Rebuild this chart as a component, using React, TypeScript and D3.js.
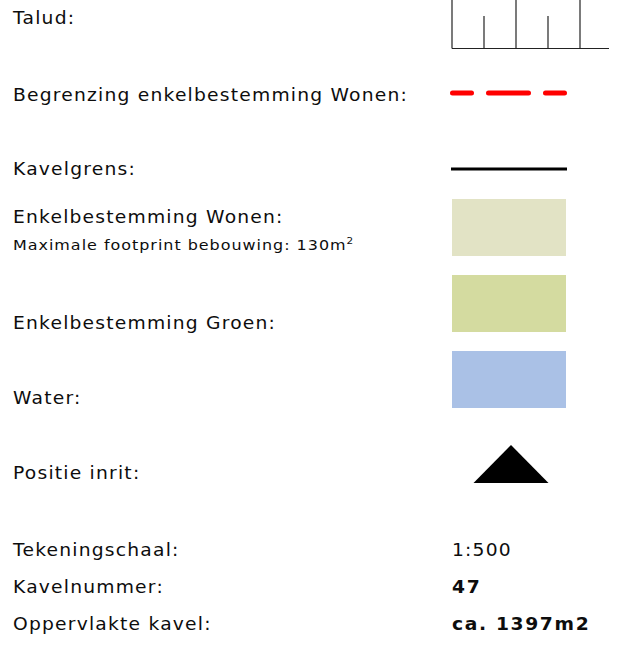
import React from 'react';
import { line, scaleLinear } from 'd3';

// legend texts
const symbolLabels = [
  'Talud:',
  'Begrenzing enkelbestemming Wonen:',
  'Kavelgrens:',
  'Enkelbestemming Wonen:',
  'Enkelbestemming Groen:',
  'Water:',
  'Positie inrit:',
]
const subLabel = 'Maximale footprint bebouwing: 130m'
const subSup = '2'

const areaNames = ['Wonen', 'Groen', 'Water']
const areaColors = ['#e2e3c5', '#d4dba0', '#aac1e6']

const infoLabels = ['Tekeningschaal:', 'Kavelnummer:', 'Oppervlakte kavel:']
const infoValues = ['1:500', '47', 'ca. 1397m2']
const infoBold = [false, true, true]

// talud ticks: 0 = long, 1 = short
const taludTicks = [0, 1, 0, 1, 0]

const dimensions = { width: 620, height: 652 }
const font = '"DejaVu Sans", Verdana, sans-serif'
// DejaVu is narrower than Verdana, stretch it a bit
const stretch = 1.1

function Label(props: { x: number, y: number, size: number, ls: number, bold?: boolean, children: React.ReactNode }) {
  const { x, y, size, ls, bold, children } = props
  return (
    <text
      transform={`translate(${x},${y}) scale(${stretch},1)`}
      fontSize={size}
      letterSpacing={ls}
      fontWeight={bold ? 'bold' : 'normal'}
      fill="#0d0d0d"
    >
      {children}
    </text>
  )
}

function App() {
  const tx = scaleLinear().domain([0, 4]).range([452, 580])
  const path = line<[number, number]>()

  const labelY = [24, 101, 175, 223, 329, 404, 479]
  const areaY = [199, 275, 351]
  const infoY = [556, 593, 630]

  return (
    <svg
      width={dimensions.width}
      height={dimensions.height}
      style={{ position: 'absolute', left: 0, top: 0, background: '#fff' }}
      fontFamily={font}
    >
      {symbolLabels.map((t, i) => (
        <Label key={t} x={13} y={labelY[i]} size={17} ls={1.1}>{t}</Label>
      ))}
      <Label x={13} y={250} size={14.5} ls={0.9}>
        {subLabel}
        <tspan dy={-6} fontSize={9.5} letterSpacing={0}>{subSup}</tspan>
      </Label>

      {/* talud */}
      <g stroke="#222" strokeWidth={1.2} fill="none">
        <path d={path([[452, 48.5], [609, 48.5]])!} />
        {taludTicks.map((k, i) => (
          <path key={i} d={path([[tx(i), k ? 16 : 0], [tx(i), 48.5]])!} />
        ))}
      </g>

      {/* begrenzing */}
      <path
        d={path([[452.5, 93], [565.5, 93]])!}
        stroke="#ff0000"
        strokeWidth={5}
        strokeLinecap="round"
        strokeDasharray="19 17 40 17 19 100"
        fill="none"
      />

      {/* kavelgrens */}
      <path d={path([[451, 169], [567, 169]])!} stroke="#000" strokeWidth={3} fill="none" />

      {areaNames.map((n, i) => (
        <rect key={n} x={452} y={areaY[i]} width={114} height={57} fill={areaColors[i]} />
      ))}

      {/* inrit */}
      <path d={path([[511, 445], [548.5, 483], [473.5, 483]])! + 'Z'} fill="#000" />

      {infoLabels.map((t, i) => (
        <g key={t}>
          <Label x={13} y={infoY[i]} size={17} ls={1.1}>{t}</Label>
          <Label x={452} y={infoY[i]} size={17} ls={infoBold[i] ? 1.5 : 1.1} bold={infoBold[i]}>
            {infoValues[i]}
          </Label>
        </g>
      ))}
    </svg>
  );
}

export default App;
